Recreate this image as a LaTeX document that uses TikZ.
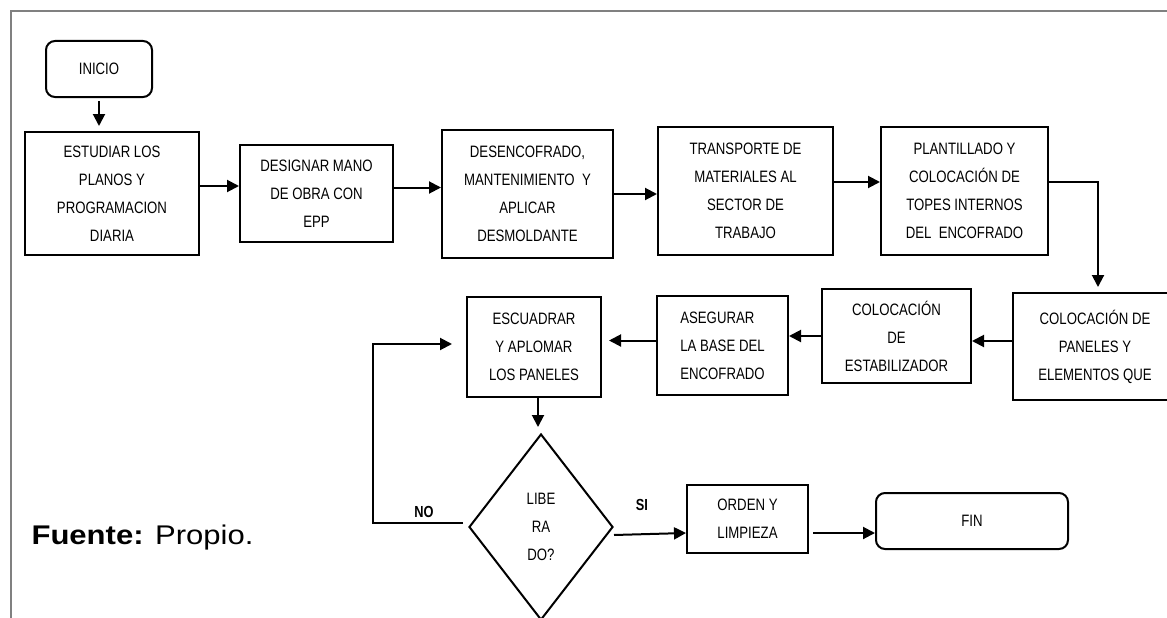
\documentclass[tikz,border=0pt]{standalone}
\usepackage{fontspec}
\setmainfont{Liberation Sans}
\newfontfamily\boxfont[FakeStretch=0.8]{Liberation Sans}
\newfontfamily\srcfont[FakeStretch=1.15]{Liberation Sans}
\usetikzlibrary{arrows.meta,shapes.geometric}
\begin{document}
\begin{tikzpicture}[x=1pt,y=-1pt,>={Triangle[length=12pt,width=12pt]},
	caja/.style n args={2}{draw,line width=2pt,align=center,inner sep=0pt,%
		minimum width=#1pt,minimum height=#2pt,font=\boxfont\fontsize{16.5}{28}\selectfont},
	term/.style n args={2}{caja={#1}{#2},rounded corners=9pt},
	flecha/.style={->,line width=2pt},
	rotulo/.style={font=\boxfont\bfseries\fontsize{16}{18}\selectfont}]
	\useasboundingbox (0,0) rectangle (1167,618);
	\draw[gray,line width=1.4pt] (11,618)--(11,11)--(1167,11);
	% primera fila
	\node[term={106}{56}] (inicio) at (99,69) {INICIO};
	\node[caja={174}{123}] (estudiar) at (112,193.5) {ESTUDIAR LOS\\PLANOS Y\\PROGRAMACION\\DIARIA};
	\node[caja={153}{97}] (designar) at (316.5,193.5) {DESIGNAR MANO\\DE OBRA CON\\EPP};
	\node[caja={171}{128}] (desenc) at (527.5,194) {DESENCOFRADO,\\MANTENIMIENTO\ \ Y\\APLICAR\\DESMOLDANTE};
	\node[caja={175}{128}] (transp) at (745.5,191) {TRANSPORTE DE\\MATERIALES AL\\SECTOR DE\\TRABAJO};
	\node[caja={167}{128}] (plant) at (964.5,191) {PLANTILLADO Y\\COLOCACI\'ON DE\\TOPES INTERNOS\\DEL\ \ ENCOFRADO};
	% segunda fila
	\node[caja={164}{107}] (panel) at (1095,346.5) {COLOCACI\'ON DE\\PANELES Y\\ELEMENTOS QUE};
	\node[caja={149}{94}] (estab) at (896.5,336) {COLOCACI\'ON\\DE\\ESTABILIZADOR};
	\node[caja={131}{99},align=left] (aseg) at (722.5,345.5) {ASEGURAR\\LA BASE DEL\\ENCOFRADO};
	\node[caja={134}{100}] (escuad) at (534,347) {ESCUADRAR\\Y APLOMAR\\LOS PANELES};
	% decision y final
	\node[draw,diamond,line width=2pt,minimum width=144pt,minimum height=186pt,inner sep=0pt,%
		align=center,font=\boxfont\fontsize{16.5}{28}\selectfont] (dec) at (541,527) {LIBE\\RA\\DO?};
	\node[caja={121}{68}] (orden) at (747.5,519) {ORDEN Y\\LIMPIEZA};
	\node[term={192}{56}] (fin) at (972,521) {FIN};
	\node[rotulo] (no) at (424,512) {NO};
	\node[rotulo] (si) at (642,505) {SI};
	\node[anchor=base west,font=\srcfont\fontsize{27}{30}\selectfont] (fuente) at (28,544) {\textbf{Fuente:} Propio.};
	\coordinate (giro) at (373,344);
	% conectores
	\draw[flecha,shorten <=3pt,shorten >=5pt] (inicio.south)--(inicio.south |- estudiar.north);
	\draw[flecha] ([yshift=7.5pt]estudiar.east)--([yshift=7.5pt]designar.west);
	\draw[flecha] ([yshift=6pt]designar.east)--([yshift=6pt]designar.east -| desenc.west);
	\draw[flecha] (desenc.east)--(desenc.east -| transp.west);
	\draw[flecha] ([yshift=9pt]transp.east)--([yshift=9pt]plant.west);
	\draw[flecha,shorten >=5pt] ([yshift=9pt]plant.east)-|([xshift=3pt]panel.north);
	\draw[flecha] ([yshift=5.5pt]panel.west)--([yshift=5.5pt]panel.west -| estab.east);
	\draw[flecha] (estab.west)--(estab.west -| aseg.east);
	\draw[flecha,shorten >=7pt] ([yshift=5pt]aseg.west)--([yshift=5pt]aseg.west -| escuad.east);
	\draw[flecha,shorten >=6pt] ([xshift=4pt]escuad.south)--([xshift=4pt]escuad.south |- dec.north);
	\draw[flecha] ([yshift=-8pt]dec.east)--([yshift=-14pt]orden.west);
	\draw[flecha,shorten <=4pt] ([yshift=-14pt]orden.east)--([yshift=-14pt]orden.east -| fin.west);
	\draw[flecha] ([xshift=-5pt,yshift=4pt]dec.west)-|(giro)--([xshift=-14pt,yshift=3pt]escuad.west);
\end{tikzpicture}
\end{document}
